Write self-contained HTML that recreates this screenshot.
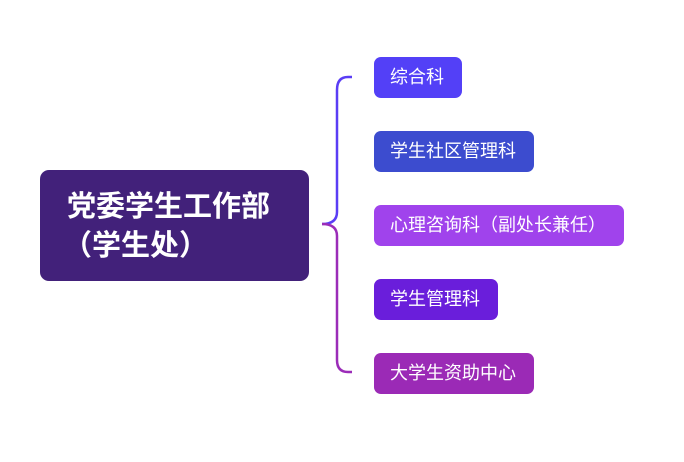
<!DOCTYPE html><html><head><style>
body{margin:0;width:684px;height:462px;background:#fff;position:relative;font-family:"Liberation Sans","Noto Sans CJK SC",sans-serif;overflow:hidden}
.b{position:absolute;left:374px;height:41px;border-radius:7px;color:#fff;font-size:18px;line-height:41px;padding-left:16px;box-sizing:border-box}
</style></head><body>
<div style="position:absolute;left:40px;top:170px;width:269px;height:111px;background:#42217a;border-radius:9px;color:#fff;font-weight:bold;font-size:29px;line-height:39px;padding:18px 0 0 27px;box-sizing:border-box">党委学生工作部<br><span style="margin-left:-4px">（学生处）</span></div>
<svg width="684" height="462" style="position:absolute;left:0;top:0">
<path d="M352 77 H348 Q337 77 337 90 V212 Q337 224 322 224" fill="none" stroke="#5a3df5" stroke-width="2.5"/>
<path d="M322 224 Q337 224 337 236 V360 Q337 372 348 372 H352" fill="none" stroke="#9b2cb8" stroke-width="2.5"/>
</svg>
<div class="b" style="top:57px;width:88px;background:#5340f7">综合科</div>
<div class="b" style="top:131px;width:160px;background:#3c4ccf">学生社区管理科</div>
<div class="b" style="top:205px;width:250px;background:#a043ec">心理咨询科（副处长兼任）</div>
<div class="b" style="top:279px;width:124px;background:#6a1edb">学生管理科</div>
<div class="b" style="top:353px;width:160px;background:#9b2ab6">大学生资助中心</div>
</body></html>
